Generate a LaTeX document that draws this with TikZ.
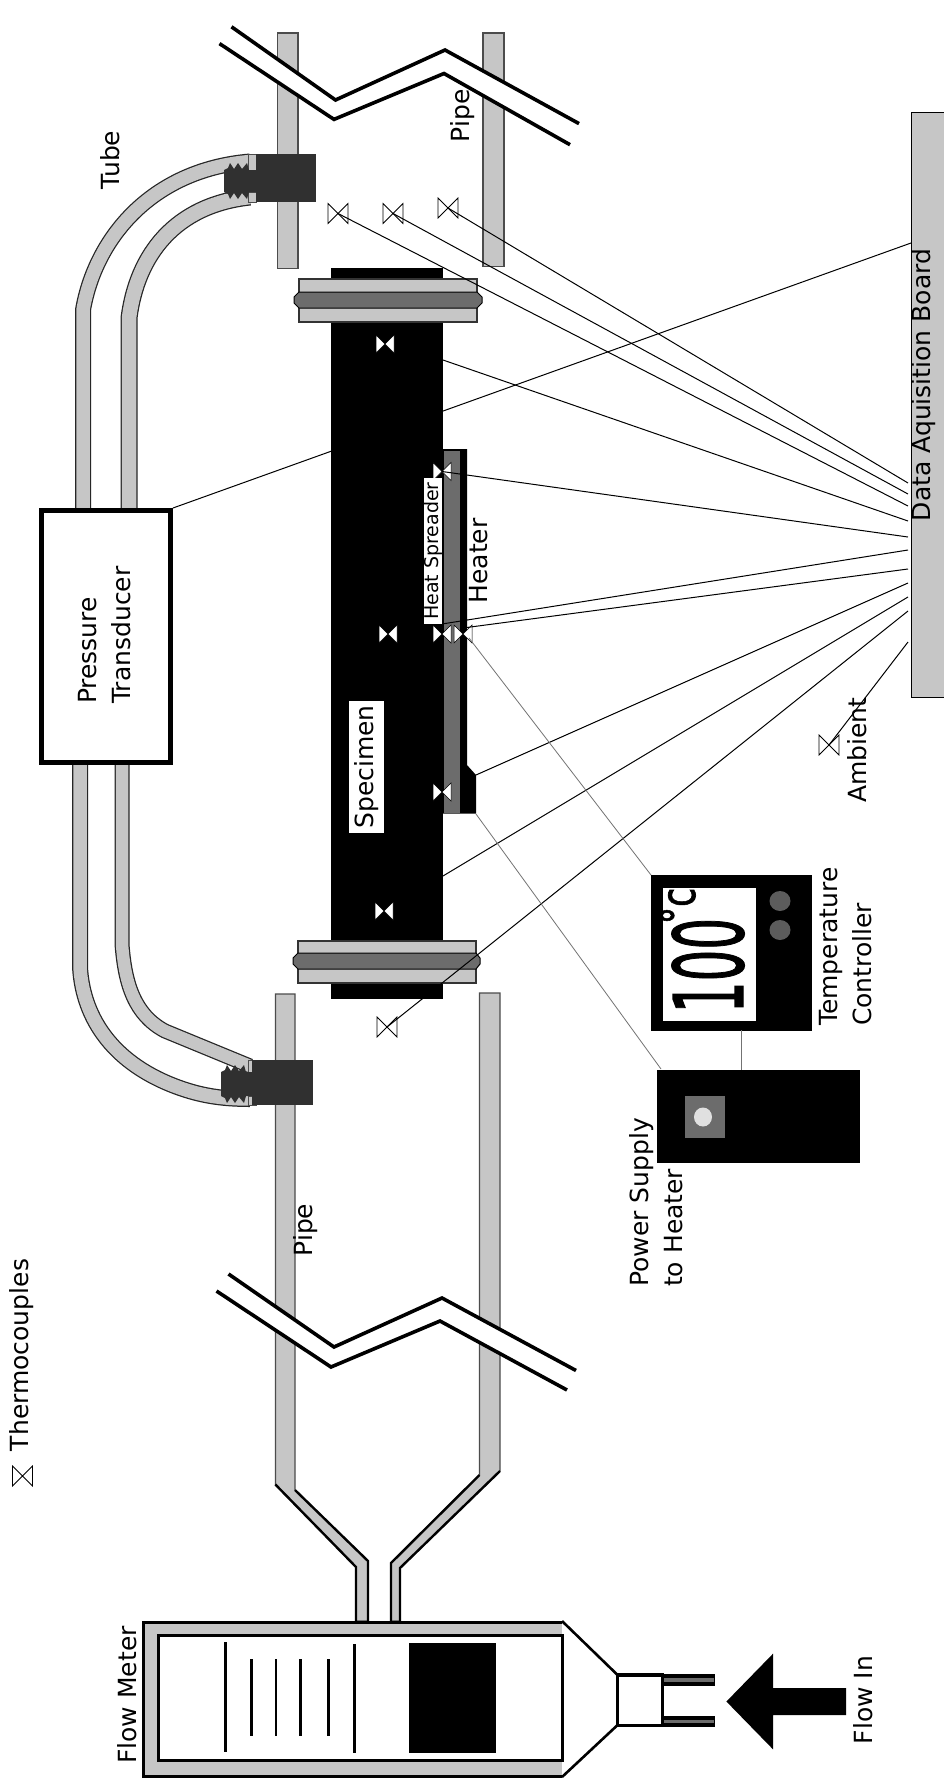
\documentclass[tikz,border=0pt]{standalone}
\usepackage{fontspec}
\setmainfont{DejaVu Sans}
\newfontfamily\dgfont[FakeBold=1.5]{DejaVu Sans}
\usetikzlibrary{calc}
\definecolor{lg}{HTML}{C6C6C6}
\definecolor{dg}{HTML}{6C6C6C}
\definecolor{fit}{HTML}{303030}
\tikzset{
  bar/.style={fill=lg,draw=black!70,line width=1.2pt},
  dark/.style={fill=dg,draw=black,line width=1pt},
  brk/.style={draw=black,line width=3.6pt,miter limit=10},
  wire/.style={draw=black,line width=1pt},
  faint/.style={draw=black!55,line width=.8pt},
  label/.style={rotate=90,inner sep=0pt,font=\fontsize{25}{34}\selectfont,align=left},
  tcopen/.style={draw=black,line width=.8pt,fill=white},
  tcwhite/.style={draw=black,line width=.5pt,fill=white}
}
\newcommand\tcO[3]{\coordinate (#1) at (#2,#3);
  \draw[tcopen,shift={(#1)}] (-10,-10)--(10,10)--(10,-10)--(-10,10)--cycle;}
\newcommand\tcW[3]{\coordinate (#1) at (#2,#3);
  \draw[tcwhite,shift={(#1)}] (-9,-9)--(9,9)--(9,-9)--(-9,9)--cycle;}
\newcommand\tube[3]{\draw[line width=#1pt,draw=black!85] #3;\draw[line width=#2pt,draw=lg] #3;}
\newcommand\fitting[7]{%
  \fill[lg,draw=black!70] (248,#1) rectangle (256,#2);
  \fill[lg,draw=black!70] (248,#3) rectangle (256,#4);
  \fill[fit] (#7,#1) rectangle (#5,#4);
  \fill[fit] (#6,#2)--(#6+4,#2-2)--(#6+6,#2-7)--(#6+10,#2-1)--(#6+14,#2-7)--(#6+18,#2-1)--(#6+23,#2-7)--(#6+25,#2)--(#7,#2)
     --(#7,#3)--(#6+25,#3)--(#6+23,#3+7)--(#6+18,#3+1)--(#6+14,#3+7)--(#6+10,#3+1)--(#6+6,#3+7)--(#6+4,#3+2)--(#6,#3)--cycle;}
\begin{document}
\begin{tikzpicture}[x=1pt,y=-1pt]
\useasboundingbox (0,0) rectangle (943,1786);
\fill[white] (0,0) rectangle (943,1786);

% named end points on the devices
\coordinate (bP) at (911,243);
\coordinate (b1) at (908,483);
\coordinate (b2) at (908,494);
\coordinate (b3) at (908,506);
\coordinate (b4) at (908,521);
\coordinate (b5) at (908,537);
\coordinate (b6) at (908,550);
\coordinate (b7) at (908,569);
\coordinate (b8) at (908,583);
\coordinate (b9) at (908,597);
\coordinate (b10) at (908,611);
\coordinate (b11) at (908,642);
\coordinate (ptR) at (173,508);
\coordinate (sTop) at (443,360);
\coordinate (sBot) at (443,876);
\coordinate (hTc) at (476,775);
\coordinate (hA) at (442,624);
\coordinate (hB) at (463,628);
\coordinate (hC) at (469,638);
\coordinate (hD) at (476,814);
\coordinate (tcTL) at (651,875);
\coordinate (psT) at (661,1069);
\coordinate (tcB) at (741.5,1030);
\coordinate (psTop) at (741.5,1070);

% pressure line passes behind the specimen
\draw[wire] (ptR) -- (bP);

% pipes, top part
\path[bar] (277.5,33) rectangle (298,268.5);
\path[bar] (483,33) rectangle (504,266.5);
\fill[white] (231.5,26.8)--(335.5,100)--(445,50)--(579,123.6)--(570,144.7)--(444,73.5)--(334,119.4)--(219.5,43.6)--cycle;
\draw[brk] (231.5,26.8)--(335.5,100)--(445,50)--(579,123.6);
\draw[brk] (219.5,43.6)--(334,119.4)--(444,73.5)--(570,144.7);

% pipes, bottom part with reducer
\path[bar] (275.4,994)--(295,994)--(295,1490)--(368,1561)--(368,1621)--(356,1621)--(356,1567)--(275.4,1484.5)--cycle;
\path[bar] (479.5,993)--(500,993)--(500,1471)--(400,1568)--(400,1621)--(391,1621)--(391,1563)--(479.5,1475)--cycle;
\draw[line width=2.4pt] (275.4,1484.5)--(356,1567)--(356,1621);
\draw[line width=2.4pt] (295,1490)--(368,1561)--(368,1621);
\draw[line width=2.4pt] (479.5,1475)--(391,1563)--(391,1621);
\draw[line width=2.4pt] (500,1471)--(400,1568)--(400,1621);
\fill[white] (228.5,1274)--(334,1347)--(442,1298)--(576,1370.5)--(567,1390)--(440,1321)--(331,1367)--(216.5,1291)--cycle;
\draw[brk] (228.5,1274)--(334,1347)--(442,1298)--(576,1370.5);
\draw[brk] (216.5,1291)--(331,1367)--(440,1321)--(567,1390);

% tubes
\tube{16}{13.5}{(83,509)--(83,310) .. controls (95,240) and (150,170) .. (250,161.5)}
\tube{17}{14.5}{(129,509)--(129,318) .. controls (137,255) and (175,205) .. (250,197)}
\tube{16}{13.5}{(80,765)--(80,967) .. controls (83,1020) and (115,1065) .. (180,1088) .. controls (200,1095) and (220,1099) .. (250,1099)}
\tube{15}{12.5}{(122,765)--(122,944) .. controls (125,985) and (135,1015) .. (165,1031) -- (250,1066)}

% fittings
\fitting{154}{170}{192}{202}{316}{224}{256}
\fitting{1060}{1072}{1096}{1105}{313}{221}{252}

% pressure transducer
\draw[draw=black,fill=white,line width=4.5pt] (41.5,510.5) rectangle (170.5,762.5);

% specimen
\fill[black] (331,268) rectangle (443,999);

% flanges
\path[bar,draw=black!80] (299,279) rectangle (477,322);
\path[dark] (299,292)--(477,292)--(482,297)--(482,303)--(477,308)--(299,308)--(294,303)--(294,297)--cycle;
\path[bar,draw=black!80] (298,941) rectangle (476,983);
\path[dark] (298,953)--(476,953)--(480,958)--(480,964)--(476,969)--(298,969)--(293,964)--(293,958)--cycle;

% heat spreader and heater
\fill[black] (443,449)--(467,449)--(467,765)--(476,775)--(476,813.5)--(443,813.5)--cycle;
\fill[dg] (444,451) rectangle (460,813);

% data acquisition board
\path[fill=lg,draw=black,line width=1.4pt] (944,112.5)--(911.5,112.5)--(911.5,697.5)--(944,697.5);

% temperature controller
\fill[black] (651,875) rectangle (812,1030.5);
\fill[white] (663,888) rectangle (756,1021);
\fill[dg!85!black] (780,901) ellipse [x radius=10.5,y radius=10];
\fill[dg!85!black] (780,930) ellipse [x radius=10.5,y radius=10];
\node[rotate=90,inner sep=0pt,anchor=base] (t100) at (743,965.5) {\scalebox{0.52}[1]{\fontsize{96}{96}\dgfont 100}};
\node[rotate=90,inner sep=0pt,anchor=base] (tdeg) at (695,906) {\scalebox{0.72}[1]{\fontsize{48}{48}\dgfont °c}};

% power supply
\fill[black] (657,1070) rectangle (860,1162.5);
\fill[dg] (685,1095.5) rectangle (725,1137.5);
\fill[black!12] (703,1117) ellipse [x radius=9,y radius=9.5];

% flow meter
\path[fill=lg,draw=black,line width=3pt] (562,1622.5)--(143.5,1622.5)--(143.5,1776.5)--(562,1776.5);
\path[fill=white,draw=black,line width=3pt] (562,1635)--(158,1635)--(158,1760)--(562,1760)--cycle;
\foreach \nm/\xx/\ya/\yb in {fa/225.5/1642/1752,fb/251.4/1659/1736,fc/276/1659/1736,fd/300.7/1659/1736,fe/328.3/1659/1736,ff/354.2/1644/1753}
  \draw[line width=2.6pt] (\xx,\ya)--(\xx,\yb);
\fill[black] (409,1643) rectangle (496,1753);
\draw[line width=2.6pt] (562,1621)--(617.6,1675);
\draw[line width=2.6pt] (562,1777)--(617.6,1725);
\draw[fill=white,line width=3.4pt] (617.6,1675) rectangle (662.5,1725.5);
\fill[black] (661,1673.5) rectangle (715,1686);
\fill[black] (661,1716) rectangle (715,1727);
\fill[dg] (664,1678) rectangle (714,1682);
\fill[dg] (664,1720) rectangle (714,1723);
\fill[black] (726.4,1701.5)--(773,1653.7)--(773,1688)--(846,1688)--(846,1715)--(773,1715)--(773,1749.3)--cycle;

% thermocouples
\tcO{t1}{338}{213.5}
\tcO{t2}{393}{213.5}
\tcO{t3}{448}{208}
\tcO{tAmb}{829}{745}
\tcO{tIn}{387}{1027}
\tcO{tLeg}{22.5}{1476}
\tcW{w1}{385}{344}
\tcW{w2}{388}{634}
\tcW{w3}{384}{911}
\tcW{w4}{442}{471.5}
\tcW{w5}{442}{634}
\tcW{w6}{463}{634}
\tcW{w7}{442}{792}

% wires to the board
\draw[wire] (t3) -- (b1);
\draw[wire] (t2) -- (b2);
\draw[wire] (t1) -- (b3);
\draw[wire] (sTop) -- (b4);
\draw[wire] (w4) -- (b5);
\draw[wire] (hA) -- (b6);
\draw[wire] (hB) -- (b7);
\draw[wire] (hTc) -- (b8);
\draw[wire] (sBot) -- (b9);
\draw[wire] (tIn) -- (b10);
\draw[wire] (tAmb) -- (b11);
\draw[faint] (hC) -- (tcTL);
\draw[faint] (hD) -- (psT);
\draw[faint] (tcB) -- (psTop);

% labels
\node[label,anchor=center] (lboard) at (924,385) {Data Aquisition Board};
\node[label,anchor=west] (lpt) at (105,704) {Pressure\\Transducer};
\node[label,anchor=center] (ltube) at (110,160) {Tube};
\node[label,anchor=center] (lpipe1) at (463,116) {Pipe};
\node[label,anchor=center] (lpipe2) at (306,1230) {Pipe};
\node[label,anchor=center,fill=white,inner xsep=4pt,inner ysep=5pt] (lspec) at (366.5,767) {Specimen};
\node[label,anchor=center] (lheater) at (479,561) {Heater};
\node[label,anchor=center,fill=white,inner xsep=4pt,inner ysep=0pt,font=\fontsize{19}{19}\selectfont] (lspread) at (433,551) {Heat Spreader};
\node[label,anchor=center] (lamb) at (857,750) {Ambient};
\node[label,anchor=west] (ltemp) at (846,1026) {Temperature\\Controller};
\node[label,anchor=west] (lpow) at (656,1287) {Power Supply\\to Heater};
\node[label,anchor=center] (lflow) at (127,1695) {Flow Meter};
\node[label,anchor=center] (lin) at (863,1700) {Flow In};
\node[label,anchor=center] (lthermo) at (22,1355) {Thermocouples};
\end{tikzpicture}
\end{document}
